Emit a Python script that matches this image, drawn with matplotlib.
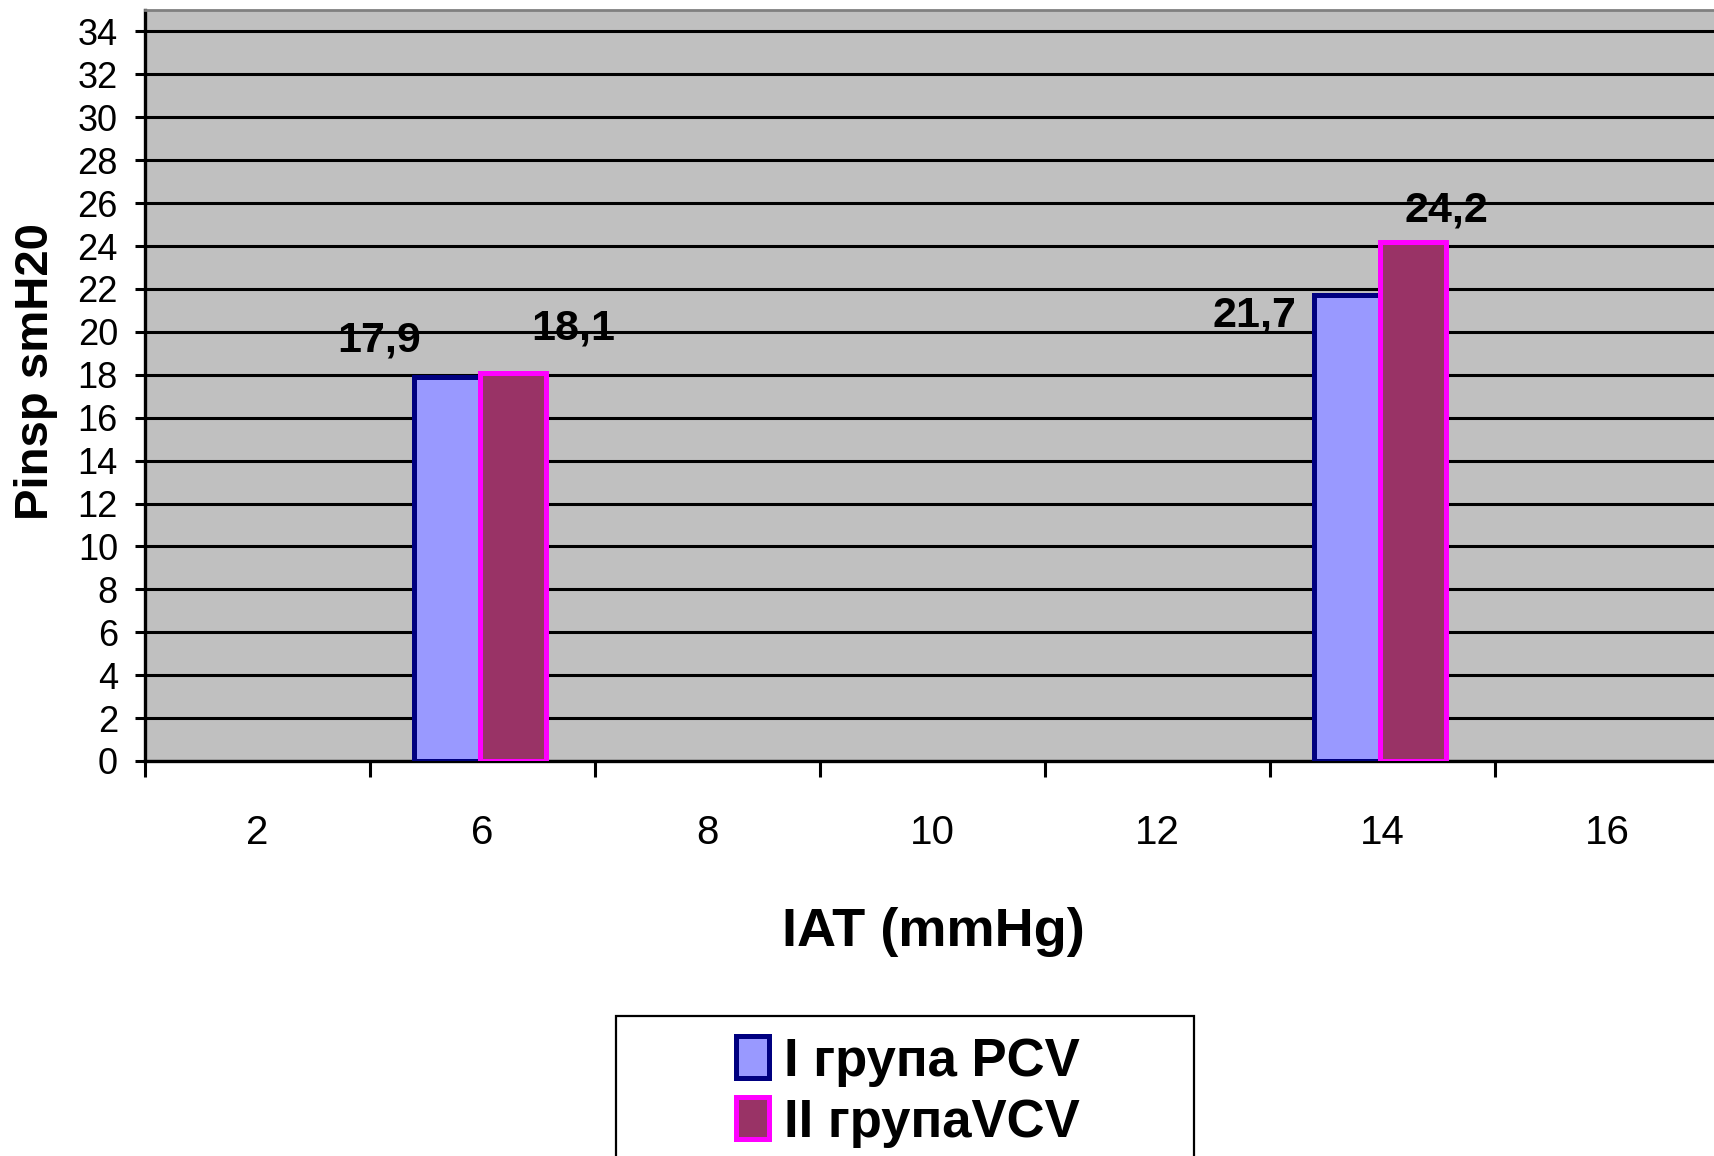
import matplotlib
matplotlib.use("Agg")
import matplotlib.pyplot as plt
from matplotlib.patches import Rectangle
import numpy as np

# Data
categories = ["2", "6", "8", "10", "12", "14", "16"]
pcv_values = [np.nan, 17.9, np.nan, np.nan, np.nan, 21.7, np.nan]
vcv_values = [np.nan, 18.1, np.nan, np.nan, np.nan, 24.2, np.nan]
series_names = ["I група PCV", "II групаVCV"]
y_ticks = list(range(0, 35, 2))

# Label placement (offsets from the top centre of each bar: category units, value units)
pcv_label_offsets = {1: (-0.30, 1.7), 5: (-0.41, -0.95)}
vcv_label_offsets = {1: (0.27, 2.05), 5: (0.15, 1.45)}

plt.rcParams["font.family"] = ["Liberation Sans", "DejaVu Sans"]

W, H = 1714, 1156
fig = plt.figure(figsize=(W / 100, H / 100), dpi=100)

# Plot area (extends slightly past the right edge of the canvas)
left_px, right_px, top_px, bottom_px = 145, 1720, 10, 761
ax = fig.add_axes([left_px / W, 1 - bottom_px / H,
                   (right_px - left_px) / W, (bottom_px - top_px) / H])
ax.set_facecolor("#C0C0C0")

x = np.arange(len(categories))
bw = 0.294
shift = -0.012
ax.bar(x + shift - bw / 2, pcv_values, width=bw, color="#9999FF", edgecolor="#000080",
       linewidth=3.6, label=series_names[0], zorder=3)
ax.bar(x + shift + bw / 2, vcv_values, width=bw, color="#993366", edgecolor="#FF00FF",
       linewidth=3.6, label=series_names[1], zorder=4)

def fmt(v):
    return f"{v:.1f}".replace(".", ",")

for i, v in enumerate(pcv_values):
    if not np.isnan(v):
        dx, dy = pcv_label_offsets[i]
        ax.text(x[i] + shift - bw / 2 + dx, v + dy, fmt(v), ha="center", va="center",
                fontsize=31, fontweight="bold", zorder=6)
for i, v in enumerate(vcv_values):
    if not np.isnan(v):
        dx, dy = vcv_label_offsets[i]
        ax.text(x[i] + shift + bw / 2 + dx, v + dy, fmt(v), ha="center", va="center",
                fontsize=31, fontweight="bold", zorder=6)

# Axes limits and ticks
ax.set_xlim(-0.5, len(categories) - 0.5)
ax.set_ylim(0, 35)
ax.set_yticks(y_ticks)
ax.set_yticklabels([str(t) for t in y_ticks], fontsize=26)
ax.tick_params(axis="y", direction="out", length=7.5, width=2.2, pad=12)

# Category boundaries carry the tick marks, centres carry the labels
ax.set_xticks(np.arange(len(categories) + 1) - 0.5)
ax.set_xticklabels([])
ax.tick_params(axis="x", which="major", direction="out", length=11.5, width=2.2)
ax.set_xticks(x, minor=True)
ax.set_xticklabels(categories, minor=True, fontsize=29)
ax.tick_params(axis="x", which="minor", length=0, pad=38)

ax.yaxis.grid(True, color="black", linewidth=2.2)
ax.set_axisbelow(True)

for s in ["left", "bottom"]:
    ax.spines[s].set_color("black")
    ax.spines[s].set_linewidth(2.4)
ax.spines["top"].set_color("#808080")
ax.spines["top"].set_linewidth(2.0)
ax.spines["right"].set_visible(False)

ax.set_ylabel("Pinsp smH20", fontsize=34, fontweight="bold", va="center")
ax.yaxis.set_label_coords((36 - left_px) / (right_px - left_px),
                          (bottom_px - 372) / (bottom_px - top_px))
ax.set_xlabel("IAT (mmHg)", fontsize=39, fontweight="bold", va="center")
ax.xaxis.set_label_coords((933 - left_px) / (right_px - left_px),
                          (bottom_px - 932) / (bottom_px - top_px))

# Legend box
fig.patches.append(Rectangle((616 / W, 1 - 1180 / H), (1194 - 616) / W, (1180 - 1016) / H,
                             transform=fig.transFigure, facecolor="white",
                             edgecolor="black", linewidth=1.6, zorder=1))
handles, labels = ax.get_legend_handles_labels()
leg = fig.legend(handles, labels, loc="upper center",
                 bbox_to_anchor=(908 / W, 1 - 1010 / H), frameon=False,
                 prop={"size": 38, "weight": "bold"}, handlelength=0.62,
                 handleheight=0.85, handletextpad=0.3, labelspacing=0.2,
                 borderpad=0.0)
leg.set_zorder(5)

fig.savefig("out.png", dpi=100)
